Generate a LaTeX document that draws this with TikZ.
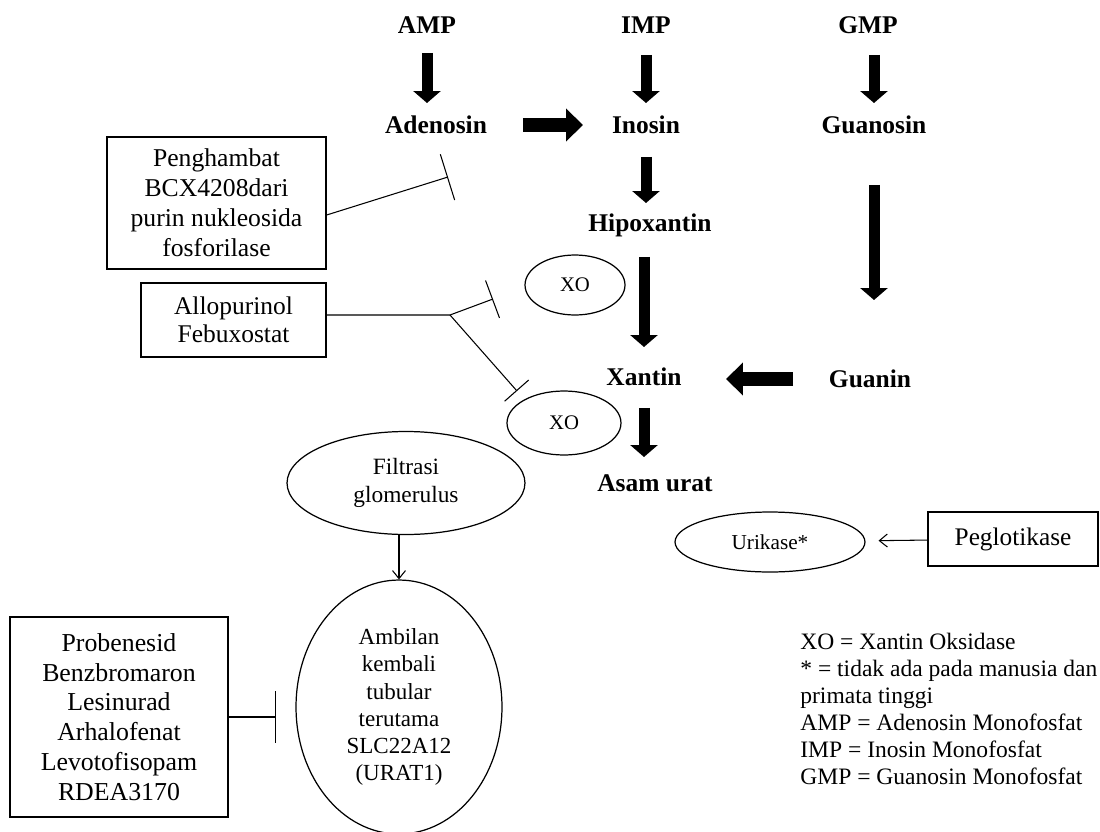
\documentclass[tikz,border=0pt]{standalone}
\usepackage{fontspec}
\setmainfont{Liberation Serif}
\usetikzlibrary{arrows.meta,shapes.geometric}

\begin{document}
\begin{tikzpicture}[x=0.02cm,y=-0.02cm,
  lbl/.style={font=\bfseries\fontsize{14.5}{17}\selectfont,inner sep=0pt},
  box/.style={draw,line width=0.8pt,align=center,inner sep=0pt},
  oval/.style={draw,ellipse,line width=0.7pt,align=center,inner sep=0pt},
  bigarrow/.style={line width=0.22cm,-{Triangle[width=0.54cm,length=0.24cm]}},
  widearrow/.style={line width=0.27cm,-{Triangle[width=0.64cm,length=0.34cm]}},
  inhib/.style={line width=0.6pt}]

\useasboundingbox (0,0) rectangle (1100,832);

% metabolites
\node[lbl] (amp) at (427,25) {AMP};
\node[lbl] (imp) at (646,25) {IMP};
\node[lbl] (gmp) at (868,25) {GMP};
\node[lbl] (adenosin) at (436,125) {Adenosin};
\node[lbl] (inosin) at (646,125) {Inosin};
\node[lbl] (guanosin) at (874,125) {Guanosin};
\node[lbl] (hipox) at (650,225) {Hipoxantin};
\node[lbl] (xantin) at (644,377) {Xantin};
\node[lbl] (guanin) at (870,379) {Guanin};
\node[lbl] (asam) at (655,483) {Asam urat};

% enzymes and processes
\node[oval,minimum width=2cm,minimum height=1.2cm,font=\fontsize{11.8}{14}\selectfont] (xoA) at (575,285) {XO};
\node[oval,minimum width=2.28cm,minimum height=1.28cm,font=\fontsize{11.8}{14}\selectfont] (xoB) at (564,423) {XO};
\node[oval,minimum width=4.76cm,minimum height=2.06cm,font=\fontsize{13.3}{16}\selectfont] (filtr) at (406,483) {Filtrasi\\glomerulus};
\node[oval,minimum width=4.12cm,minimum height=5.08cm,font=\fontsize{13.1}{15.4}\selectfont] (ambilan) at (399,707) {Ambilan\\kembali\\tubular\\terutama\\SLC22A12\\(URAT1)};
\node[oval,minimum width=3.8cm,minimum height=1.2cm,font=\fontsize{12.1}{14}\selectfont] (urikase) at (770,542) {Urikase*};

% drugs
\node[box,minimum width=4.38cm,minimum height=2.64cm,font=\fontsize{14.6}{17.1}\selectfont] (pengh) at (216.5,203) {Penghambat\\BCX4208dari\\purin nukleosida\\fosforilase};
\node[box,minimum width=3.7cm,minimum height=1.48cm,font=\fontsize{14.5}{16}\selectfont] (allo) at (233.5,320) {Allopurinol\\Febuxostat};
\node[box,minimum width=4.36cm,minimum height=4cm,font=\fontsize{14.7}{16.9}\selectfont] (drug) at (119,717) {Probenesid\\Benzbromaron\\Lesinurad\\Arhalofenat\\Levotofisopam\\RDEA3170};
\node[box,minimum width=3.4cm,minimum height=1.08cm,font=\fontsize{14.4}{17}\selectfont] (peglo) at (1013,539) {Peglotikase};

% legend
\node[anchor=north west,align=left,inner sep=0pt,font=\fontsize{13.4}{15.4}\selectfont] (legend) at (800,633)
  {XO = Xantin Oksidase\\* = tidak ada pada manusia dan\\primata tinggi\\AMP = Adenosin Monofosfat\\IMP = Inosin Monofosfat\\GMP = Guanosin Monofosfat};

% pathway arrows
\draw[bigarrow,shorten <=0.56cm,shorten >=0.44cm] (amp.center) -- (amp |- adenosin);
\draw[bigarrow,shorten <=0.6cm,shorten >=0.44cm] (imp.center) -- (imp |- inosin);
\draw[bigarrow,shorten <=0.6cm,shorten >=0.44cm] (guanosin |- gmp) -- (guanosin.center);
\draw[widearrow,shorten <=1.74cm,shorten >=1.26cm] (adenosin.center) -- (adenosin -| inosin);
\draw[bigarrow,shorten <=0.64cm,shorten >=0.44cm] (inosin.center) -- (inosin |- hipox);
\draw[bigarrow,shorten <=0.64cm,shorten >=0.6cm] (xantin |- hipox) -- (xantin.center);
\draw[bigarrow,shorten <=1.2cm,shorten >=1.58cm] (guanosin.center) -- (guanosin |- guanin);
\draw[widearrow,shorten <=1.54cm,shorten >=1.64cm] (guanin.center) -- (guanin -| xantin);
\draw[bigarrow,shorten <=0.62cm,shorten >=0.52cm] (xantin.center) -- (xantin |- asam);

% inhibition
\coordinate (teeA) at (448,177);
\coordinate (split) at (450,315);
\coordinate (teeB) at (493,299);
\coordinate (teeC) at (517,391);
\coordinate (teeD) at (276,717);
\draw[inhib,-{Bar[width=0.96cm]}] ([yshift=-0.24cm]pengh.east) -- (teeA);
\draw[inhib] ([yshift=0.1cm]allo.east) -- (split);
\draw[inhib,-{Bar[width=0.8cm]}] (split) -- (teeB);
\draw[inhib,-{Bar[width=0.64cm]}] (split) -- (teeC);
\draw[inhib,-{Bar[width=1.04cm]}] (drug) -- (teeD);

% thin arrows
\draw[inhib,-{Straight Barb[length=0.16cm,width=0.26cm]}] (ambilan |- filtr.south) -- (ambilan.north);
\draw[inhib,-{Straight Barb[length=0.16cm,width=0.26cm]},shorten >=0.26cm] (peglo) -- (urikase);

\end{tikzpicture}
\end{document}
